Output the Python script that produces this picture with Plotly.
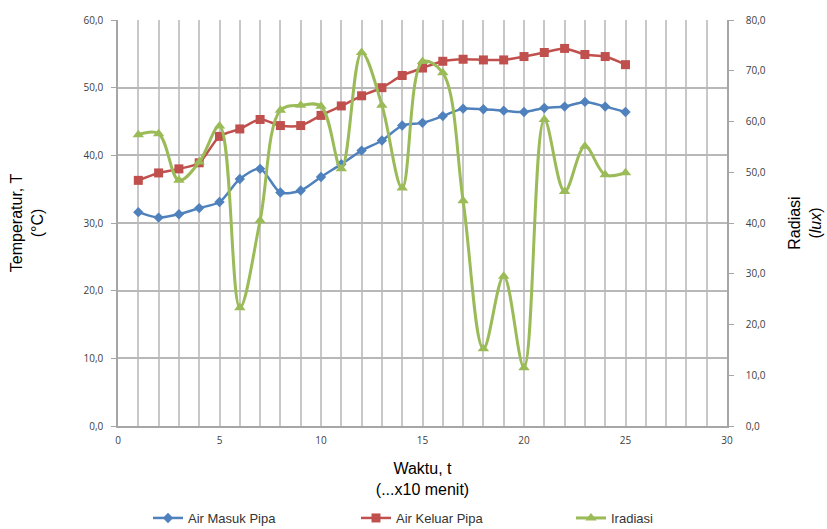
import plotly.graph_objects as go

waktu = list(range(1, 26))
air_masuk = [31.6, 30.8, 31.3, 32.2, 33.1, 36.5, 38.0, 34.5, 34.8, 36.8, 38.7, 40.7, 42.2, 44.4, 44.8,
             45.8, 46.9, 46.8, 46.6, 46.4, 47.0, 47.2, 47.9, 47.2, 46.4]
air_keluar = [36.3, 37.4, 38.0, 38.9, 42.8, 43.9, 45.3, 44.4, 44.4, 45.9, 47.3, 48.8, 50.0, 51.8, 52.9,
              53.9, 54.2, 54.1, 54.1, 54.6, 55.2, 55.8, 54.9, 54.6, 53.4]
iradiasi = [57.4, 57.6, 48.4, 52.0, 59.1, 23.3, 40.5, 62.2, 63.2, 63.0, 50.7, 73.6, 63.2, 46.9, 71.8,
            69.6, 44.4, 15.2, 29.5, 11.5, 60.4, 46.2, 55.1, 49.5, 49.9]

fig = go.Figure()
fig.add_trace(go.Scatter(x=waktu, y=air_masuk, name="Air Masuk Pipa", mode="lines+markers",
                         legend="legend",
                         line=dict(color="#4F81BD", width=2.5, shape="spline", smoothing=0.8),
                         marker=dict(symbol="diamond", size=8, color="#4F81BD")))
fig.add_trace(go.Scatter(x=waktu, y=air_keluar, name="Air Keluar Pipa", mode="lines+markers",
                         legend="legend2",
                         line=dict(color="#C0504D", width=2.5, shape="spline", smoothing=0.8),
                         marker=dict(symbol="square", size=9, color="#C0504D")))
fig.add_trace(go.Scatter(x=waktu, y=iradiasi, name="Iradiasi", mode="lines+markers", yaxis="y2",
                         legend="legend3",
                         line=dict(color="#9BBB59", width=3, shape="spline", smoothing=1.0),
                         marker=dict(symbol="triangle-up", size=10, color="#9BBB59")))

tickfont = dict(family="Open Sans, Noto Sans, sans-serif", size=10, color="#404040")
titlefont = dict(family="Liberation Sans, Arial, sans-serif", size=16, color="#000000")
legfont = dict(family="Liberation Sans, Arial, sans-serif", size=13, color="#333333")


def leg(xpix):
    return dict(orientation="h", xref="container", yref="container", x=xpix / 827, y=26 / 529,
                xanchor="left", yanchor="top", font=legfont, bgcolor="rgba(0,0,0,0)",
                itemwidth=30)


fig.update_layout(
    width=827, height=529,
    margin=dict(l=118, r=100, t=20, b=103, autoexpand=False),
    plot_bgcolor="white", paper_bgcolor="white",
    separators=",.",
    showlegend=True,
    legend=leg(148),
    legend2=leg(356),
    legend3=leg(571),
    xaxis=dict(range=[0, 30], dtick=5, tick0=0, showgrid=True, gridcolor="#c8c8c8", gridwidth=1.5,
               minor=dict(dtick=1, showgrid=True, gridcolor="#c8c8c8", gridwidth=1.5),
               showline=True, linecolor="#a6a6a6", linewidth=1.5, ticks="", zeroline=False,
               tickfont=tickfont, ticklabelstandoff=4, automargin=False,
               title=dict(text="Waktu, t<br>(...x10 menit)", font=titlefont, standoff=17)),
    yaxis=dict(range=[0, 60], dtick=10, tickformat=".1f", showgrid=True, gridcolor="#b8b8b8", gridwidth=1.5,
               showline=True, linecolor="#a6a6a6", linewidth=1.5, ticks="outside", ticklen=5,
               tickcolor="#a6a6a6", zeroline=False, tickfont=tickfont, ticklabelstandoff=6,
               automargin=False,
               title=dict(text="Temperatur, T<br>(°C)", font=titlefont, standoff=36)),
    yaxis2=dict(range=[0, 80], dtick=10, tickformat=".1f", overlaying="y", side="right", showgrid=False,
                showline=True, linecolor="#a6a6a6", linewidth=1.5, ticks="outside", ticklen=5,
                tickcolor="#a6a6a6", zeroline=False, tickfont=tickfont, ticklabelstandoff=10,
                automargin=False,
                title=dict(text="Radiasi<br>(<i>lux</i>)", font=titlefont, standoff=24)),
)

fig.write_html("out.html")
